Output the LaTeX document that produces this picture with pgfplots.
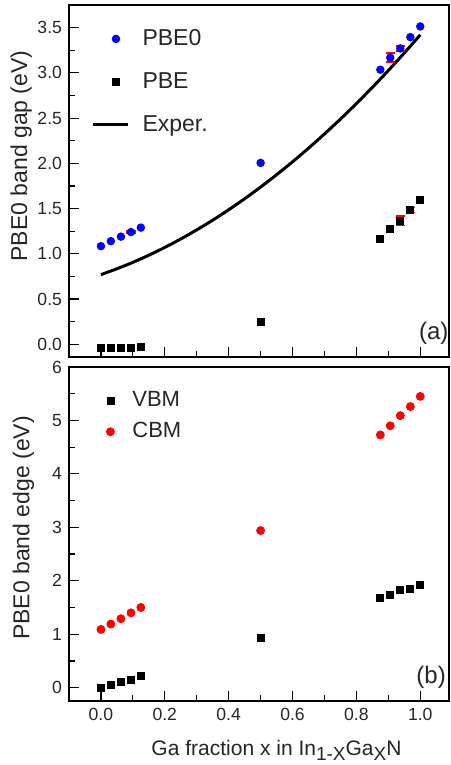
\documentclass[border=0pt]{standalone}
\usepackage{fontspec}
\setmainfont{Liberation Sans}
\usepackage{pgfplots}
\pgfplotsset{compat=1.18}

\begin{document}
\begin{tikzpicture}
\pgfplotsset{
  panel/.style={
    scale only axis,
    width=190pt,
    xmin=-0.1, xmax=1.09,
    axis line style={line width=0.9pt},
    tick align=inside,
    xtick pos=bottom, ytick pos=left,
    xtick={0,0.2,0.4,0.6,0.8,1},
    minor x tick num=1, minor y tick num=1,
    major tick length=5pt, minor tick length=3pt,
    every tick/.style={black, line width=0.6pt},
    /pgf/number format/assume math mode=true,
    tick label style={font=\fontsize{8.8}{10}\selectfont, text=black!85},
    xticklabel style={/pgf/number format/.cd, fixed, fixed zerofill, precision=1},
    label style={font=\fontsize{11.5}{13}\selectfont, text=black!85},
    legend cell align=left,
  },
}
\useasboundingbox (-34.5pt,2.5pt) rectangle (190.5pt,-380pt);

% (a) band gap
\begin{axis}[panel,
  at={(0,0)}, anchor=north west,
  height=176pt,
  ymin=-0.14, ymax=3.75,
  ytick={0,0.5,1,1.5,2,2.5,3,3.5},
  yticklabel style={/pgf/number format/.cd, fixed, fixed zerofill, precision=1},
  xticklabels=\empty,
  ylabel={PBE0 band gap (eV)},
  ylabel style={at={(axis description cs:-0.126,0.571)}, anchor=center},
  legend style={draw=none, fill=none, at={(axis description cs:0,1)}, anchor=north west,
    xshift=8pt, yshift=-8pt, row sep=8pt, column sep=5pt,
    font=\fontsize{11.5}{13}\selectfont, text=black!85},
]
\addplot[only marks, mark=*, mark size=1.9pt, blue, legend image post style={xshift=3pt}] coordinates {
  (0,1.085) (0.031,1.14) (0.0625,1.19) (0.094,1.24) (0.125,1.29)
  (0.5,2.005)
  (0.875,3.035) (0.906,3.168) (0.9375,3.27) (0.969,3.395) (1.0,3.513)
};
\addlegendentry{PBE0}
\addplot[only marks, mark=square*, mark size=1.75pt, black, legend image post style={xshift=3pt}] coordinates {
  (0,-0.04) (0.031,-0.04) (0.0625,-0.04) (0.094,-0.04) (0.125,-0.03)
  (0.5,0.25)
  (0.875,1.16) (0.906,1.276) (0.9375,1.365) (0.969,1.486) (1.0,1.596)
};
\addlegendentry{PBE}
\addplot[black, line width=1.5pt, smooth] coordinates {
  (0,0.77) (0.05,0.835) (0.1,0.906) (0.15,0.985) (0.2,1.071) (0.25,1.164)
  (0.3,1.265) (0.35,1.372) (0.4,1.487) (0.45,1.609) (0.5,1.738)
  (0.55,1.874) (0.6,2.017) (0.65,2.167) (0.7,2.325) (0.75,2.489)
  (0.8,2.661) (0.85,2.840) (0.9,3.026) (0.95,3.220) (1.0,3.42)
};
\addlegendentry{Exper.}
% error bars
\addplot[draw=none, mark=none, forget plot,
  error bars/.cd, y dir=both, y explicit,
  error bar style={draw=red, solid, line width=0.8pt},
  error mark options={rotate=90, draw=red, fill=red, mark size=2.3pt, line width=0.8pt}]
  coordinates {
  (0.094,1.24) +- (0,0.012)
  (0.906,3.168) +- (0,0.05)
  (0.9375,3.27) +- (0,0.026)
  (0.9375,1.365) +- (0,0.052)
  (0.969,1.486) +- (0,0.028)
};
\node[font=\fontsize{12}{14}\selectfont, text=black!85] at (rel axis cs:0.96,0.068) {(a)};
\end{axis}

% (b) band edges
\begin{axis}[panel,
  at={(0,-181pt)}, anchor=north west,
  height=167pt,
  ymin=-0.25, ymax=6,
  ytick={0,1,2,3,4,5,6},
  xlabel={Ga fraction x in In\raisebox{-0.45ex}{\fontsize{9.5}{10}\selectfont 1-X}Ga\raisebox{-0.45ex}{\fontsize{9.5}{10}\selectfont X}N},
  xlabel style={at={(axis description cs:0.546,0)}, anchor=center, yshift=-24.5pt, font=\fontsize{10.5}{12}\selectfont},
  ylabel={PBE0 band edge (eV)},
  ylabel style={at={(axis description cs:-0.12,0.518)}, anchor=center},
  legend style={draw=none, fill=none, at={(axis description cs:0,1)}, anchor=north west,
    xshift=15.5pt, yshift=-8pt, row sep=2.5pt, column sep=7pt,
    font=\fontsize{11}{13}\selectfont, text=black!85},
]
\addplot[only marks, mark=square*, mark size=1.75pt, black, legend image post style={xshift=2pt}] coordinates {
  (0,0.0) (0.031,0.06) (0.0625,0.10) (0.094,0.15) (0.125,0.22)
  (0.5,0.93)
  (0.875,1.68) (0.906,1.73) (0.9375,1.82) (0.969,1.85) (1.0,1.92)
};
\addlegendentry{VBM}
\addplot[only marks, mark=*, mark size=2pt, red, legend image post style={xshift=2pt}] coordinates {
  (0,1.09) (0.031,1.19) (0.0625,1.29) (0.094,1.40) (0.125,1.50)
  (0.5,2.94)
  (0.875,4.73) (0.906,4.90) (0.9375,5.09) (0.969,5.26) (1.0,5.45)
};
\addlegendentry{CBM}
\node[font=\fontsize{12}{14}\selectfont, text=black!85] at (rel axis cs:0.953,0.072) {(b)};
\end{axis}
\end{tikzpicture}
\end{document}
